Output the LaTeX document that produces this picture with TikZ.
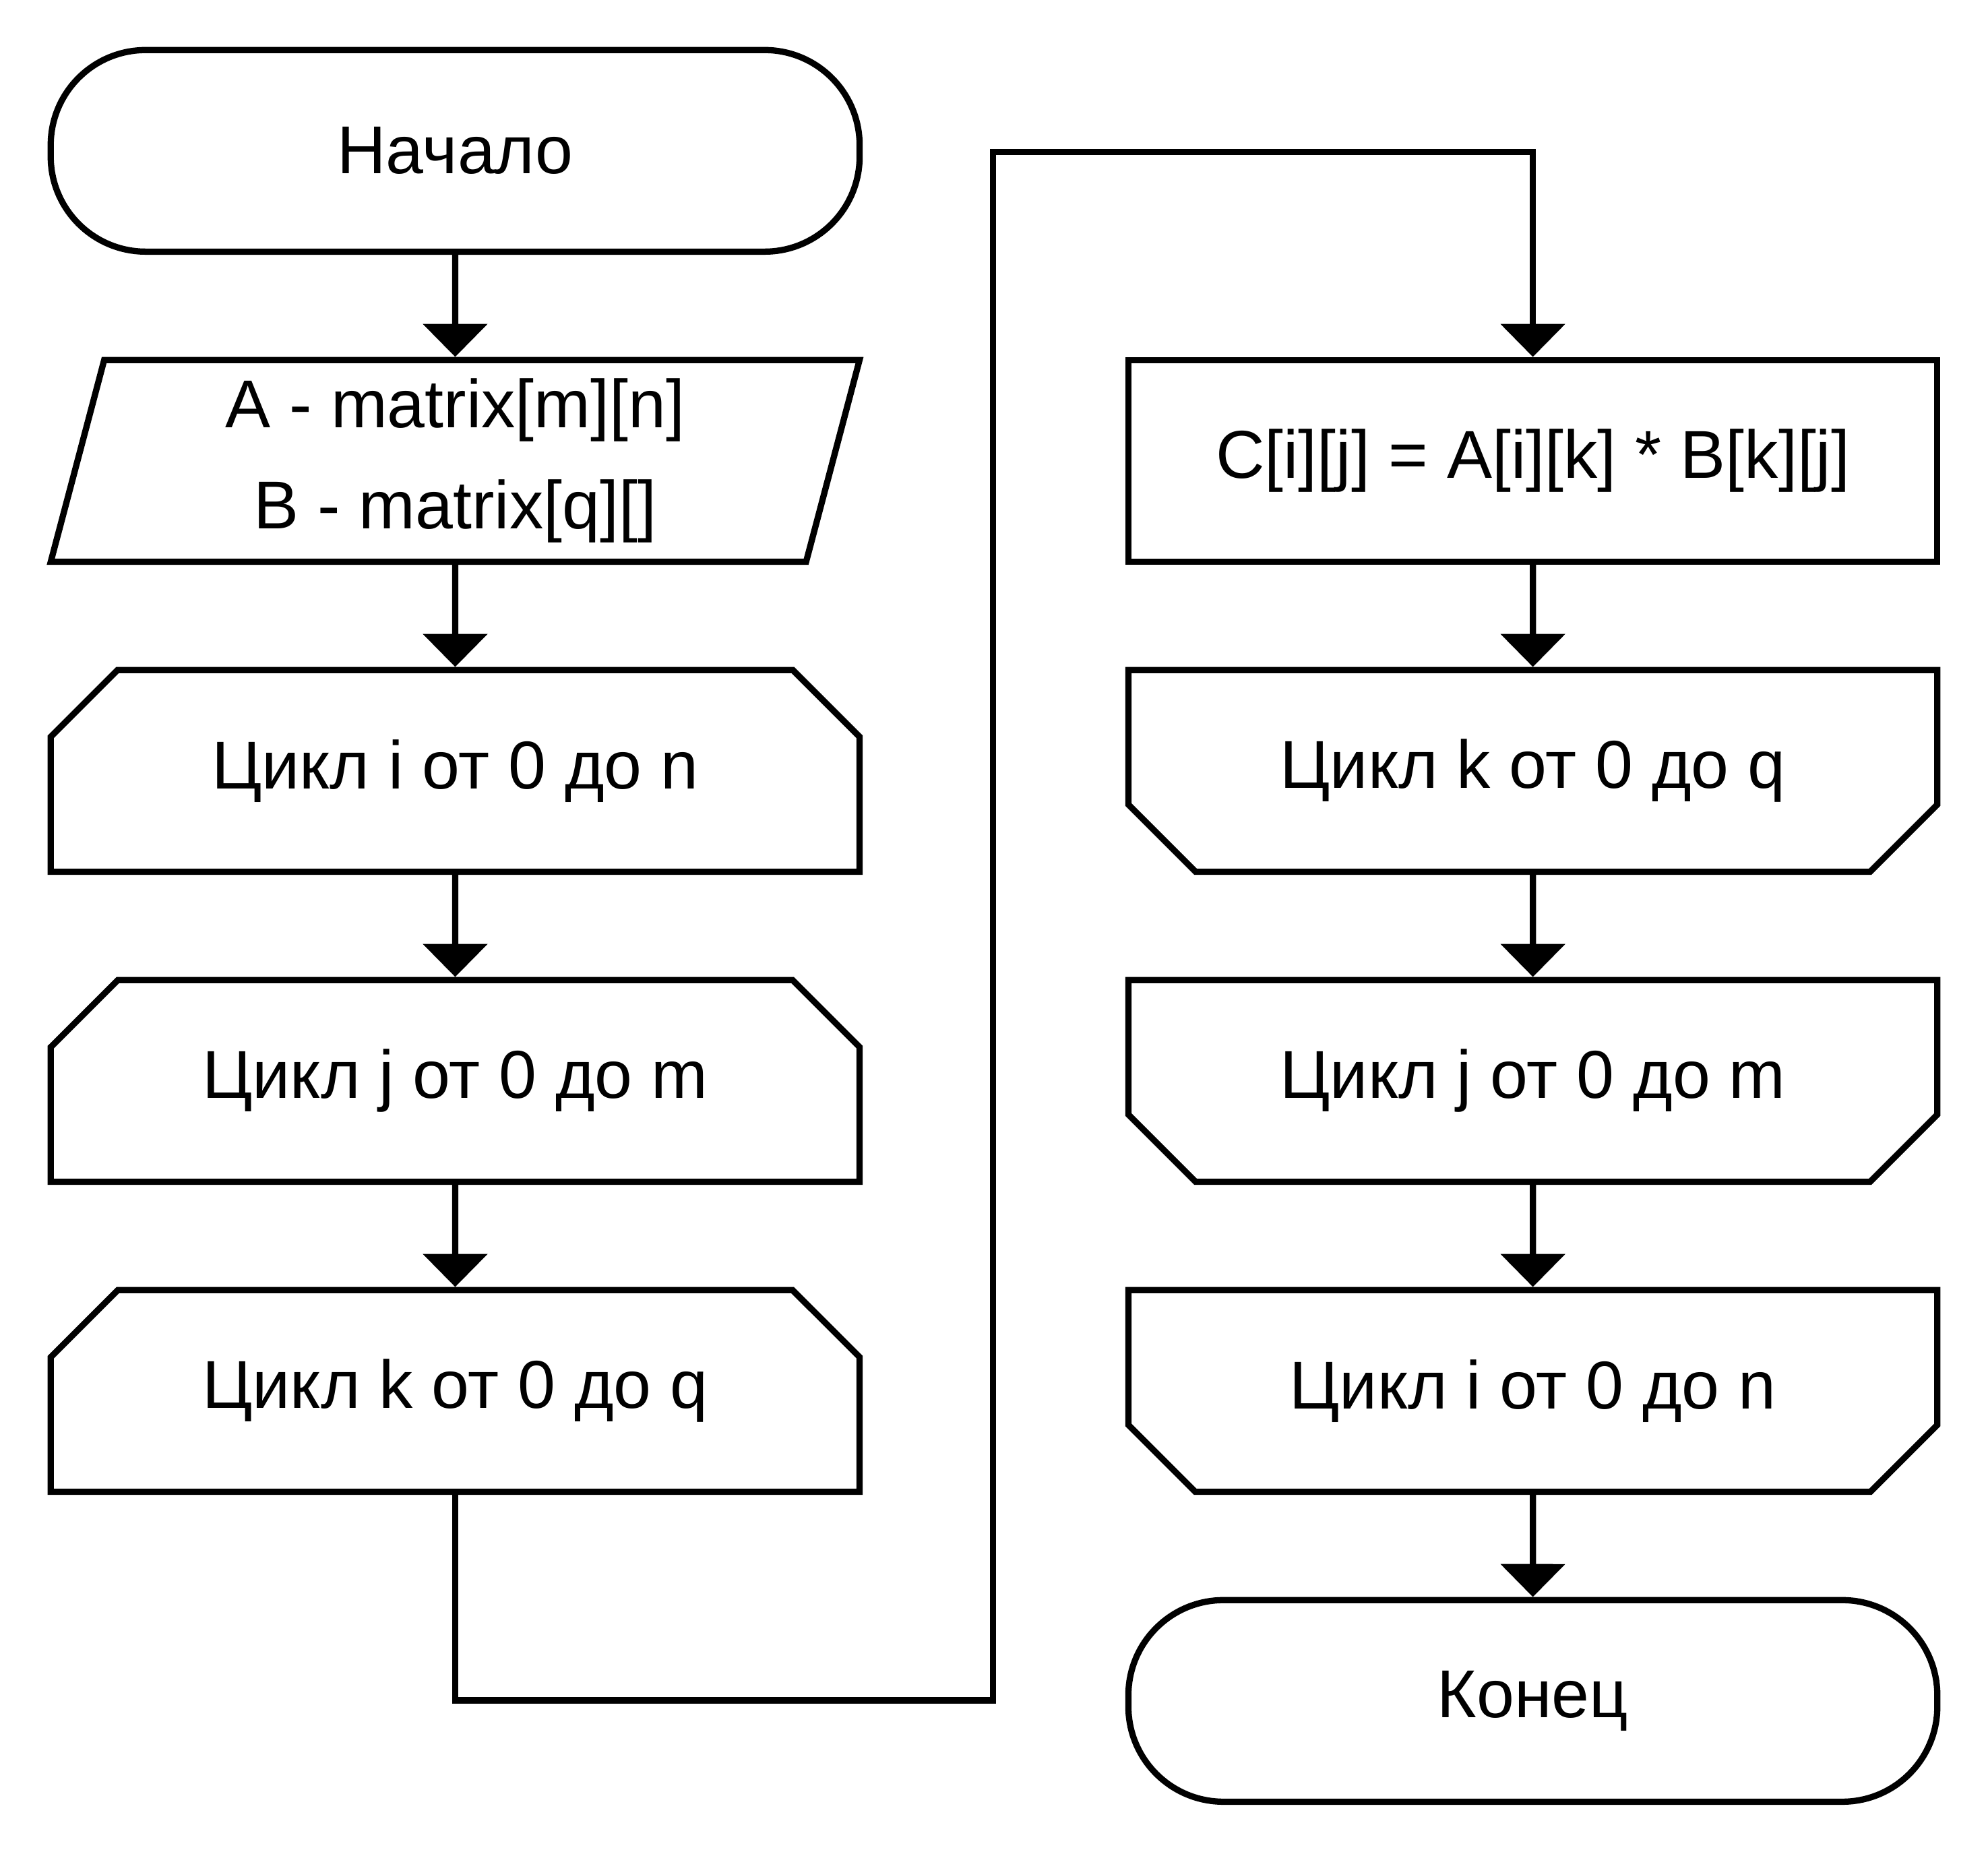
\documentclass[tikz,border=0pt]{standalone}
\usepackage{fontspec}
\setmainfont{Liberation Sans}
\usetikzlibrary{shapes.geometric,shapes.misc,arrows.meta}

\begin{document}
\begin{tikzpicture}[node distance=2.445cm, line width=1.4pt, font=\fontsize{15.2}{22.7}\selectfont]
	\useasboundingbox (0,0) rectangle (15.68,14.62);
	\tikzstyle{term}=[rectangle, rounded corners=0.75cm, draw=black, minimum width=6.38cm, minimum height=1.59cm, inner sep=0pt]
	\tikzstyle{io}=[trapezium, trapezium left angle=78, trapezium right angle=102, trapezium stretches=true, draw=black, minimum width=6.38cm, minimum height=1.59cm, inner sep=0pt, align=center]
	\tikzstyle{proc}=[rectangle, draw=black, minimum width=6.38cm, minimum height=1.59cm, inner sep=0pt]
	\tikzstyle{loopbeg}=[chamfered rectangle, chamfered rectangle corners={north west,north east}, chamfered rectangle sep=0.28cm, draw=black, minimum width=6.38cm, minimum height=1.59cm, inner sep=0pt]
	\tikzstyle{loopend}=[chamfered rectangle, chamfered rectangle corners={south west,south east}, chamfered rectangle sep=0.28cm, draw=black, minimum width=6.38cm, minimum height=1.59cm, inner sep=0pt]

	\node[term] 				(start) at (3.59,13.43) {Начало};
	\node[io, below of=start] 		(inp) {A - matrix[m][n]\\B - matrix[q][]};
	\node[loopbeg, below of=inp] 	(li) {Цикл i от 0 до n};
	\node[loopbeg, below of=li] 	(lj) {Цикл j от 0 до m};
	\node[loopbeg, below of=lj] 	(lk) {Цикл k от 0 до q};
	\node[proc, right of=inp, node distance=8.5cm] 	(calc) {C[i][j] = A[i][k] * B[k][j]};
	\node[loopend, below of=calc] 	(ek) {Цикл k от 0 до q};
	\node[loopend, below of=ek] 	(ej) {Цикл j от 0 до m};
	\node[loopend, below of=ej] 	(ei) {Цикл i от 0 до n};
	\node[term, below of=ei] 		(stop) {Конец};
	\coordinate (low) at (7.83,1.21);
	\coordinate (high) at (7.83,13.42);

	\begin{scope}[-{Triangle[width=0.5cm,length=0.26cm]}]
		\draw	(start) -- (inp);
		\draw	(inp) -- (li);
		\draw	(li) -- (lj);
		\draw	(lj) -- (lk);
		\draw	(lk.south) |- (low) -- (high) -| (calc.north);
		\draw	(calc) -- (ek);
		\draw	(ek) -- (ej);
		\draw	(ej) -- (ei);
		\draw	(ei) -- (stop);
	\end{scope}
\end{tikzpicture}
\end{document}
